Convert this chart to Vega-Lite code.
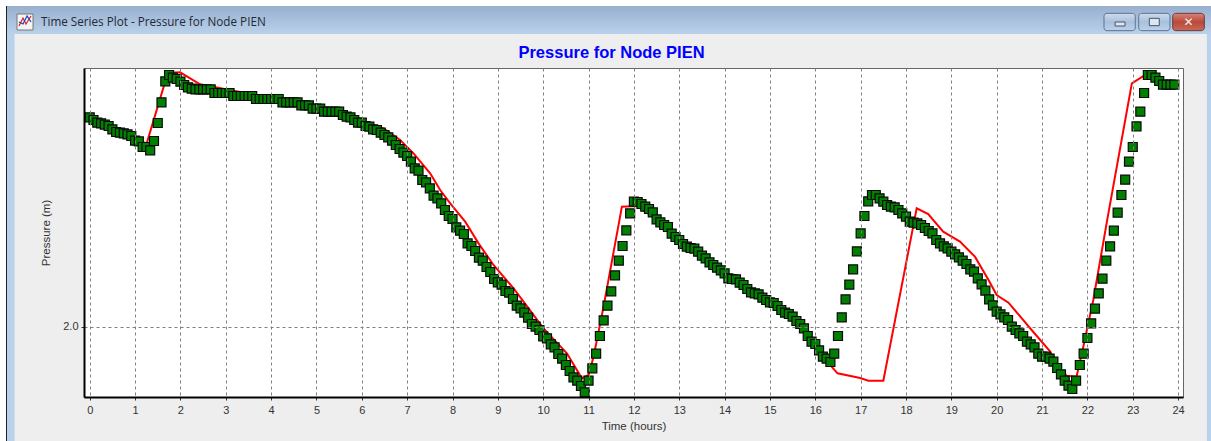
{"$schema":"https://vega.github.io/schema/vega-lite/v6.json","width":1099,"height":329,"autosize":{"type":"none"},"padding":{"left":84,"top":68,"right":28,"bottom":44},"background":"#eeeeee","view":{"fill":"white","stroke":"#666666","strokeWidth":1},"title":{"text":"Pressure for Node PIEN","color":"#0000ff","fontSize":16.5,"font":"Liberation Sans","fontWeight":"bold","anchor":"middle","frame":"group","dx":-22,"offset":0,"dy":61},"datasets":{"outer":[{"part":"top edge","t":-1.978,"t2":24.727,"p":2.98,"p2":2.962},{"part":"left edge","t":-1.978,"t2":-1.846,"p":2.98,"p2":1.657}],"bar":[{"part":"title bar","t":-1.846,"t2":24.727,"p":2.962,"p2":2.878}],"side":[{"part":"left border","t":-1.824,"t2":-1.658,"p":2.878,"p2":1.657},{"part":"right border","t":24.635,"t2":24.727,"p":2.878,"p2":1.657}],"frame":[{"part":"dark edge","t":-1.846,"t2":-1.824,"p":2.962,"p2":1.657}],"icon":[{"part":"icon","t":-1.603,"t2":-1.25,"p":2.938,"p2":2.89}],"iconred":[{"t":-1.559,"p":2.902},{"t":-1.471,"p":2.926},{"t":-1.405,"p":2.908},{"t":-1.295,"p":2.932}],"iconblue":[{"t":-1.559,"p":2.914},{"t":-1.471,"p":2.908},{"t":-1.382,"p":2.932},{"t":-1.295,"p":2.914}],"btn":[{"part":"minimize","t":22.366,"t2":23.056,"p":2.94,"p2":2.888},{"part":"maximize","t":23.131,"t2":23.821,"p":2.94,"p2":2.888}],"btnglyph":[{"part":"minimize glyph","t":22.61,"t2":22.83,"p":2.914,"p2":2.902},{"part":"maximize glyph","t":23.365,"t2":23.585,"p":2.925,"p2":2.903}],"close":[{"part":"close","t":23.881,"t2":24.578,"p":2.94,"p2":2.888}],"wintitle":[{"label":"Time Series Plot - Pressure for Node PIEN","t":-1.074,"p":2.914}],"btnlabels":[{"label":"✕","t":24.23,"p":2.914}],"computed":[{"t":0,"p":2.63},{"t":1,"p":2.56},{"t":1.257,"p":2.55},{"t":1.676,"p":2.74},{"t":1.787,"p":2.762},{"t":1.993,"p":2.763},{"t":2.434,"p":2.727},{"t":3.169,"p":2.708},{"t":3.684,"p":2.695},{"t":4.272,"p":2.685},{"t":5.007,"p":2.662},{"t":5.669,"p":2.642},{"t":6.037,"p":2.615},{"t":6.478,"p":2.595},{"t":6.846,"p":2.56},{"t":6.919,"p":2.55},{"t":7.14,"p":2.52},{"t":7.507,"p":2.46},{"t":7.728,"p":2.41},{"t":7.949,"p":2.37},{"t":8.279,"p":2.315},{"t":8.574,"p":2.25},{"t":8.904,"p":2.185},{"t":9.346,"p":2.115},{"t":9.677,"p":2.055},{"t":10.007,"p":1.995},{"t":10.522,"p":1.92},{"t":10.853,"p":1.845},{"t":11,"p":1.855},{"t":11.11,"p":1.91},{"t":11.331,"p":2.06},{"t":11.735,"p":2.36},{"t":12.066,"p":2.362},{"t":12.5,"p":2.322},{"t":13,"p":2.26},{"t":14,"p":2.16},{"t":15,"p":2.073},{"t":15.5,"p":2.03},{"t":16,"p":1.948},{"t":16.36,"p":1.88},{"t":16.49,"p":1.86},{"t":16.99,"p":1.846},{"t":17.17,"p":1.838},{"t":17.5,"p":1.838},{"t":18.236,"p":2.355},{"t":18.49,"p":2.338},{"t":18.82,"p":2.285},{"t":19.19,"p":2.255},{"t":19.52,"p":2.21},{"t":19.82,"p":2.14},{"t":20,"p":2.095},{"t":20.26,"p":2.072},{"t":20.77,"p":1.99},{"t":21.18,"p":1.925},{"t":21.36,"p":1.88},{"t":21.54,"p":1.853},{"t":21.76,"p":1.85},{"t":21.91,"p":1.94},{"t":22.13,"p":2.08},{"t":22.43,"p":2.315},{"t":22.98,"p":2.73},{"t":23.24,"p":2.752},{"t":23.33,"p":2.755},{"t":23.58,"p":2.737},{"t":23.67,"p":2.726},{"t":23.92,"p":2.726}],"observed":[{"t":0,"p":2.628},{"t":0.083,"p":2.62},{"t":0.167,"p":2.612},{"t":0.25,"p":2.61},{"t":0.333,"p":2.606},{"t":0.417,"p":2.602},{"t":0.5,"p":2.592},{"t":0.583,"p":2.584},{"t":0.667,"p":2.582},{"t":0.75,"p":2.58},{"t":0.833,"p":2.577},{"t":0.917,"p":2.572},{"t":1,"p":2.558},{"t":1.083,"p":2.556},{"t":1.167,"p":2.539},{"t":1.25,"p":2.539},{"t":1.333,"p":2.529},{"t":1.417,"p":2.557},{"t":1.5,"p":2.611},{"t":1.583,"p":2.673},{"t":1.667,"p":2.736},{"t":1.75,"p":2.755},{"t":1.833,"p":2.747},{"t":1.917,"p":2.743},{"t":2,"p":2.735},{"t":2.083,"p":2.725},{"t":2.167,"p":2.718},{"t":2.25,"p":2.714},{"t":2.333,"p":2.712},{"t":2.417,"p":2.712},{"t":2.5,"p":2.712},{"t":2.583,"p":2.712},{"t":2.667,"p":2.712},{"t":2.75,"p":2.701},{"t":2.833,"p":2.701},{"t":2.917,"p":2.701},{"t":3,"p":2.701},{"t":3.083,"p":2.701},{"t":3.167,"p":2.692},{"t":3.25,"p":2.692},{"t":3.333,"p":2.692},{"t":3.417,"p":2.692},{"t":3.5,"p":2.692},{"t":3.583,"p":2.692},{"t":3.667,"p":2.683},{"t":3.75,"p":2.683},{"t":3.833,"p":2.683},{"t":3.917,"p":2.683},{"t":4,"p":2.683},{"t":4.083,"p":2.683},{"t":4.167,"p":2.683},{"t":4.25,"p":2.673},{"t":4.333,"p":2.673},{"t":4.417,"p":2.673},{"t":4.5,"p":2.673},{"t":4.583,"p":2.673},{"t":4.667,"p":2.664},{"t":4.75,"p":2.664},{"t":4.833,"p":2.664},{"t":4.917,"p":2.654},{"t":5,"p":2.654},{"t":5.083,"p":2.654},{"t":5.167,"p":2.645},{"t":5.25,"p":2.645},{"t":5.333,"p":2.645},{"t":5.417,"p":2.645},{"t":5.5,"p":2.645},{"t":5.583,"p":2.635},{"t":5.667,"p":2.63},{"t":5.75,"p":2.628},{"t":5.833,"p":2.62},{"t":5.917,"p":2.612},{"t":6,"p":2.612},{"t":6.083,"p":2.602},{"t":6.167,"p":2.6},{"t":6.25,"p":2.592},{"t":6.333,"p":2.59},{"t":6.417,"p":2.582},{"t":6.5,"p":2.575},{"t":6.583,"p":2.568},{"t":6.667,"p":2.558},{"t":6.75,"p":2.545},{"t":6.833,"p":2.533},{"t":6.917,"p":2.522},{"t":7,"p":2.512},{"t":7.083,"p":2.495},{"t":7.167,"p":2.475},{"t":7.25,"p":2.468},{"t":7.333,"p":2.44},{"t":7.417,"p":2.433},{"t":7.5,"p":2.415},{"t":7.583,"p":2.393},{"t":7.667,"p":2.385},{"t":7.75,"p":2.37},{"t":7.833,"p":2.35},{"t":7.917,"p":2.332},{"t":8,"p":2.323},{"t":8.083,"p":2.298},{"t":8.167,"p":2.288},{"t":8.25,"p":2.278},{"t":8.333,"p":2.25},{"t":8.417,"p":2.242},{"t":8.5,"p":2.227},{"t":8.583,"p":2.207},{"t":8.667,"p":2.198},{"t":8.75,"p":2.179},{"t":8.833,"p":2.164},{"t":8.917,"p":2.143},{"t":9,"p":2.133},{"t":9.083,"p":2.126},{"t":9.167,"p":2.107},{"t":9.25,"p":2.102},{"t":9.333,"p":2.083},{"t":9.417,"p":2.063},{"t":9.5,"p":2.055},{"t":9.583,"p":2.042},{"t":9.667,"p":2.027},{"t":9.75,"p":2.008},{"t":9.833,"p":2},{"t":9.917,"p":1.99},{"t":10,"p":1.971},{"t":10.083,"p":1.965},{"t":10.167,"p":1.947},{"t":10.25,"p":1.938},{"t":10.333,"p":1.918},{"t":10.417,"p":1.904},{"t":10.5,"p":1.885},{"t":10.583,"p":1.867},{"t":10.667,"p":1.848},{"t":10.75,"p":1.838},{"t":10.833,"p":1.822},{"t":10.917,"p":1.803},{"t":11,"p":1.838},{"t":11.083,"p":1.875},{"t":11.167,"p":1.919},{"t":11.25,"p":1.972},{"t":11.333,"p":2.019},{"t":11.417,"p":2.063},{"t":11.5,"p":2.106},{"t":11.583,"p":2.154},{"t":11.667,"p":2.198},{"t":11.75,"p":2.242},{"t":11.833,"p":2.289},{"t":11.917,"p":2.34},{"t":12,"p":2.375},{"t":12.083,"p":2.374},{"t":12.167,"p":2.368},{"t":12.25,"p":2.36},{"t":12.333,"p":2.353},{"t":12.417,"p":2.343},{"t":12.5,"p":2.322},{"t":12.583,"p":2.313},{"t":12.667,"p":2.305},{"t":12.75,"p":2.299},{"t":12.833,"p":2.279},{"t":12.917,"p":2.269},{"t":13,"p":2.26},{"t":13.083,"p":2.248},{"t":13.167,"p":2.24},{"t":13.25,"p":2.236},{"t":13.333,"p":2.234},{"t":13.417,"p":2.225},{"t":13.5,"p":2.213},{"t":13.583,"p":2.205},{"t":13.667,"p":2.193},{"t":13.75,"p":2.185},{"t":13.833,"p":2.177},{"t":13.917,"p":2.169},{"t":14,"p":2.16},{"t":14.083,"p":2.145},{"t":14.167,"p":2.143},{"t":14.25,"p":2.142},{"t":14.333,"p":2.132},{"t":14.417,"p":2.125},{"t":14.5,"p":2.113},{"t":14.583,"p":2.103},{"t":14.667,"p":2.1},{"t":14.75,"p":2.097},{"t":14.833,"p":2.087},{"t":14.917,"p":2.08},{"t":15,"p":2.073},{"t":15.083,"p":2.071},{"t":15.167,"p":2.062},{"t":15.25,"p":2.05},{"t":15.333,"p":2.042},{"t":15.417,"p":2.038},{"t":15.5,"p":2.03},{"t":15.583,"p":2.017},{"t":15.667,"p":2.008},{"t":15.75,"p":1.995},{"t":15.833,"p":1.972},{"t":15.917,"p":1.955},{"t":16,"p":1.948},{"t":16.083,"p":1.929},{"t":16.167,"p":1.91},{"t":16.25,"p":1.904},{"t":16.333,"p":1.894},{"t":16.417,"p":1.919},{"t":16.5,"p":1.972},{"t":16.583,"p":2.028},{"t":16.667,"p":2.082},{"t":16.75,"p":2.126},{"t":16.833,"p":2.172},{"t":16.917,"p":2.226},{"t":17,"p":2.28},{"t":17.083,"p":2.332},{"t":17.167,"p":2.376},{"t":17.25,"p":2.395},{"t":17.333,"p":2.395},{"t":17.417,"p":2.385},{"t":17.5,"p":2.375},{"t":17.583,"p":2.365},{"t":17.667,"p":2.36},{"t":17.75,"p":2.358},{"t":17.833,"p":2.35},{"t":17.917,"p":2.34},{"t":18,"p":2.33},{"t":18.083,"p":2.315},{"t":18.167,"p":2.312},{"t":18.25,"p":2.31},{"t":18.333,"p":2.305},{"t":18.417,"p":2.296},{"t":18.5,"p":2.287},{"t":18.583,"p":2.28},{"t":18.667,"p":2.26},{"t":18.75,"p":2.25},{"t":18.833,"p":2.241},{"t":18.917,"p":2.235},{"t":19,"p":2.225},{"t":19.083,"p":2.217},{"t":19.167,"p":2.208},{"t":19.25,"p":2.198},{"t":19.333,"p":2.188},{"t":19.417,"p":2.172},{"t":19.5,"p":2.165},{"t":19.583,"p":2.145},{"t":19.667,"p":2.127},{"t":19.75,"p":2.108},{"t":19.833,"p":2.082},{"t":19.917,"p":2.064},{"t":20,"p":2.045},{"t":20.083,"p":2.037},{"t":20.167,"p":2.028},{"t":20.25,"p":2.02},{"t":20.333,"p":2},{"t":20.417,"p":1.99},{"t":20.5,"p":1.98},{"t":20.583,"p":1.972},{"t":20.667,"p":1.955},{"t":20.75,"p":1.947},{"t":20.833,"p":1.938},{"t":20.917,"p":1.919},{"t":21,"p":1.91},{"t":21.083,"p":1.91},{"t":21.167,"p":1.904},{"t":21.25,"p":1.895},{"t":21.333,"p":1.876},{"t":21.417,"p":1.857},{"t":21.5,"p":1.838},{"t":21.583,"p":1.823},{"t":21.667,"p":1.813},{"t":21.75,"p":1.838},{"t":21.833,"p":1.885},{"t":21.917,"p":1.919},{"t":22,"p":1.966},{"t":22.083,"p":2.01},{"t":22.167,"p":2.054},{"t":22.25,"p":2.1},{"t":22.333,"p":2.144},{"t":22.417,"p":2.198},{"t":22.5,"p":2.241},{"t":22.583,"p":2.288},{"t":22.667,"p":2.342},{"t":22.75,"p":2.395},{"t":22.833,"p":2.441},{"t":22.917,"p":2.495},{"t":23,"p":2.539},{"t":23.083,"p":2.601},{"t":23.167,"p":2.645},{"t":23.25,"p":2.701},{"t":23.333,"p":2.755},{"t":23.417,"p":2.755},{"t":23.5,"p":2.747},{"t":23.583,"p":2.737},{"t":23.667,"p":2.726},{"t":23.75,"p":2.726},{"t":23.833,"p":2.726},{"t":23.917,"p":2.726}]},"encoding":{"x":{"field":"t","type":"quantitative","scale":{"domain":[-0.126,24.108],"nice":false,"zero":false},"axis":{"values":[0,1,2,3,4,5,6,7,8,9,10,11,12,13,14,15,16,17,18,19,20,21,22,23,24],"format":"d","title":"Time (hours)","titleFont":"Liberation Sans","titleFontSize":11.5,"titleFontWeight":"normal","titleColor":"#333333","titlePadding":5,"labelFont":"Liberation Sans","labelFontSize":11,"labelColor":"#333333","labelPadding":4,"labelOverlap":false,"tickSize":3,"tickColor":"#333333","domainColor":"#000000","domainWidth":2,"grid":true,"gridColor":"#808080","gridDash":[3,3],"gridWidth":1,"zindex":1}},"y":{"field":"p","type":"quantitative","scale":{"domain":[1.789,2.776],"nice":false,"zero":false},"axis":{"values":[2],"format":".1f","title":"Pressure (m)","titleFont":"Liberation Sans","titleFontSize":11.5,"titleFontWeight":"normal","titleColor":"#333333","titlePadding":11,"labelFont":"Liberation Sans","labelFontSize":11,"labelColor":"#333333","labelPadding":3,"tickSize":3,"tickColor":"#333333","domainColor":"#000000","domainWidth":2,"grid":true,"gridColor":"#808080","gridDash":[3,3],"gridWidth":1,"zindex":1}}},"layer":[{"data":{"name":"outer"},"mark":{"type":"rect","color":"#ffffff"},"encoding":{"x2":{"field":"t2"},"y2":{"field":"p2"}}},{"data":{"name":"bar"},"mark":{"type":"rect","color":{"gradient":"linear","x1":0,"y1":0,"x2":0,"y2":1,"stops":[{"offset":0,"color":"#98b0ce"},{"offset":1,"color":"#b9d1ea"}]}},"encoding":{"x2":{"field":"t2"},"y2":{"field":"p2"}}},{"data":{"name":"side"},"mark":{"type":"rect","color":"#b9d1ea"},"encoding":{"x2":{"field":"t2"},"y2":{"field":"p2"}}},{"data":{"name":"frame"},"mark":{"type":"rect","color":"#222222"},"encoding":{"x2":{"field":"t2"},"y2":{"field":"p2"}}},{"data":{"name":"icon"},"mark":{"type":"rect","color":"#f4f4f4","stroke":"#777777","strokeWidth":1},"encoding":{"x2":{"field":"t2"},"y2":{"field":"p2"}}},{"data":{"name":"iconred"},"mark":{"type":"line","color":"#e02020","strokeWidth":1.2}},{"data":{"name":"iconblue"},"mark":{"type":"line","color":"#2040c0","strokeWidth":1.2}},{"data":{"name":"btn"},"mark":{"type":"rect","cornerRadius":3,"stroke":"#5d7391","strokeWidth":1,"color":{"gradient":"linear","x1":0,"y1":0,"x2":0,"y2":1,"stops":[{"offset":0,"color":"#cddcee"},{"offset":0.5,"color":"#a9c0dc"},{"offset":1,"color":"#bcd2ea"}]}},"encoding":{"x2":{"field":"t2"},"y2":{"field":"p2"}}},{"data":{"name":"btnglyph"},"mark":{"type":"rect","color":"#dde6f0","stroke":"#44566e","strokeWidth":1},"encoding":{"x2":{"field":"t2"},"y2":{"field":"p2"}}},{"data":{"name":"close"},"mark":{"type":"rect","cornerRadius":3,"stroke":"#6e3a3a","strokeWidth":1,"color":{"gradient":"linear","x1":0,"y1":0,"x2":0,"y2":1,"stops":[{"offset":0,"color":"#d9857a"},{"offset":0.5,"color":"#b84a38"},{"offset":1,"color":"#c9695a"}]}},"encoding":{"x2":{"field":"t2"},"y2":{"field":"p2"}}},{"data":{"name":"wintitle"},"mark":{"type":"text","align":"left","baseline":"middle","font":"Open Sans","fontSize":11.7,"color":"#1e2a38"},"encoding":{"text":{"field":"label"}}},{"data":{"name":"btnlabels"},"mark":{"type":"text","align":"center","baseline":"middle","font":"DejaVu Sans","fontSize":12,"fontWeight":"bold","color":"#f2f2f2"},"encoding":{"text":{"field":"label"}}},{"data":{"name":"computed"},"mark":{"type":"line","color":"#ff0000","strokeWidth":2}},{"data":{"name":"observed"},"mark":{"type":"point","shape":"square","filled":true,"fill":"#007f00","stroke":"#0a0a0a","strokeWidth":1.2,"size":81,"opacity":1}}]}
